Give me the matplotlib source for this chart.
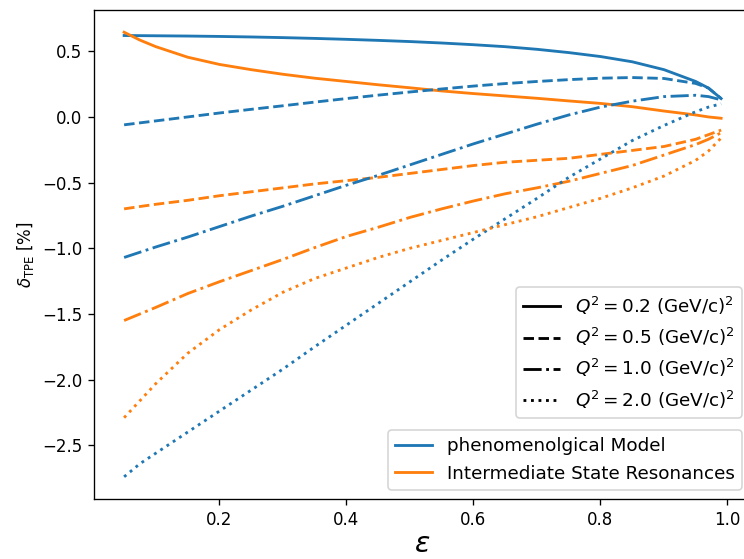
import matplotlib
matplotlib.use("Agg")
import matplotlib.pyplot as plt
from matplotlib.lines import Line2D

# epsilon grid shared by all curves
eps = [0.05, 0.075, 0.1, 0.15, 0.2, 0.25, 0.3, 0.35, 0.4, 0.45, 0.5,
       0.55, 0.6, 0.65, 0.7, 0.75, 0.8, 0.85, 0.9, 0.95, 0.97, 0.99]

q2_labels = ["0.2", "0.5", "1.0", "2.0"]
styles = ["-", "--", "-.", ":"]

# phenomenological model, delta_TPE in %
pheno_q02 = [0.62, 0.619, 0.618, 0.616, 0.613, 0.609, 0.604, 0.598, 0.591, 0.583, 0.574,
             0.563, 0.55, 0.535, 0.515, 0.49, 0.46, 0.42, 0.36, 0.27, 0.22, 0.14]
pheno_q05 = [-0.06, -0.045, -0.03, 0.0, 0.03, 0.058, 0.085, 0.113, 0.14, 0.166, 0.19,
             0.213, 0.235, 0.254, 0.27, 0.284, 0.295, 0.30, 0.293, 0.255, 0.22, 0.14]
pheno_q10 = [-1.07, -1.03, -0.99, -0.915, -0.835, -0.755, -0.68, -0.60, -0.52, -0.445, -0.365,
             -0.285, -0.205, -0.13, -0.055, 0.015, 0.075, 0.12, 0.155, 0.165, 0.155, 0.13]
pheno_q20 = [-2.74, -2.64, -2.56, -2.40, -2.24, -2.08, -1.92, -1.75, -1.585, -1.42, -1.255,
             -1.09, -0.93, -0.775, -0.62, -0.46, -0.32, -0.18, -0.065, 0.04, 0.075, 0.10]

# intermediate state resonances, delta_TPE in %
isr_q02 = [0.645, 0.585, 0.535, 0.455, 0.40, 0.36, 0.325, 0.295, 0.27, 0.245, 0.222,
           0.198, 0.178, 0.16, 0.142, 0.122, 0.103, 0.078, 0.045, 0.015, 0.0, -0.01]
isr_q05 = [-0.70, -0.682, -0.665, -0.635, -0.60, -0.57, -0.54, -0.51, -0.485, -0.46, -0.43,
           -0.40, -0.37, -0.345, -0.33, -0.315, -0.285, -0.255, -0.225, -0.17, -0.135, -0.10]
isr_q10 = [-1.55, -1.50, -1.45, -1.345, -1.255, -1.17, -1.085, -0.995, -0.91, -0.84, -0.765,
           -0.70, -0.64, -0.585, -0.54, -0.49, -0.43, -0.37, -0.29, -0.21, -0.17, -0.12]
isr_q20 = [-2.29, -2.16, -2.03, -1.80, -1.62, -1.47, -1.335, -1.23, -1.15, -1.07, -1.00,
           -0.94, -0.88, -0.82, -0.76, -0.69, -0.62, -0.54, -0.45, -0.33, -0.26, -0.16]

pheno = [pheno_q02, pheno_q05, pheno_q10, pheno_q20]
isr = [isr_q02, isr_q05, isr_q10, isr_q20]

dpi = 120
fig = plt.figure(figsize=(744 / dpi, 559 / dpi), dpi=dpi)
ax = fig.add_axes([0.1267, 0.1073, 0.8827, 0.8748])

for ls, p, r in zip(styles, pheno, isr):
    ax.plot(eps, p, color="C0", linestyle=ls, lw=1.7)
    ax.plot(eps, r, color="C1", linestyle=ls, lw=1.7)

ax.set_xlabel(r"$\varepsilon$", fontsize=17, labelpad=1)
ax.set_ylabel(r"$\delta_{\mathrm{TPE}}$ [%]")

style_handles = [Line2D([], [], color="black", linestyle=ls, lw=1.7) for ls in styles]
style_labels = [r"$Q^2 = %s$ (GeV/c)$^2$" % q for q in q2_labels]
leg1 = ax.legend(style_handles, style_labels, loc="lower right",
                 bbox_to_anchor=(1, 0.147), fontsize=11)
ax.add_artist(leg1)

model_handles = [Line2D([], [], color="C0", lw=1.7), Line2D([], [], color="C1", lw=1.7)]
ax.legend(model_handles, ["phenomenolgical Model", "Intermediate State Resonances"],
          loc="lower right", fontsize=11)

fig.savefig("out.png", dpi=dpi)
